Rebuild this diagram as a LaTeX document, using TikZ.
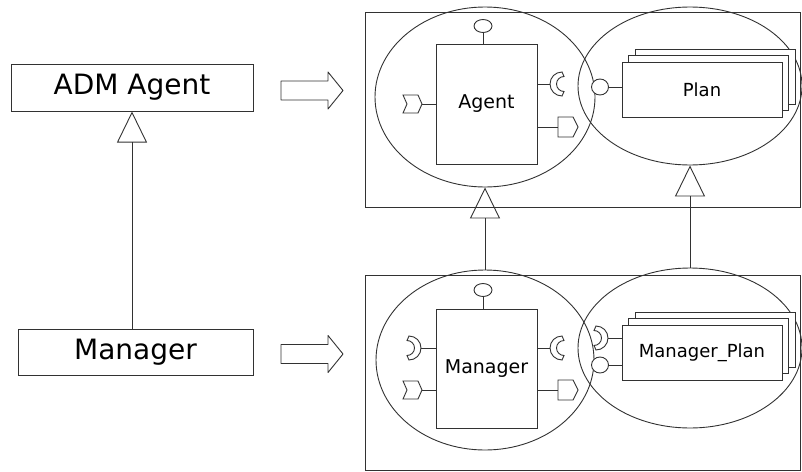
\documentclass[tikz,border=0pt]{standalone}
\usepackage{fontspec}
\setmainfont{DejaVu Sans}
\usetikzlibrary{arrows.meta,shapes.geometric}
\definecolor{ink}{RGB}{50,50,50}

\tikzset{
  line/.style={draw=ink, line width=0.9pt},
  classbox/.style={rectangle, draw=ink, line width=1pt, inner sep=0pt,
    font=\fontsize{28}{30}\selectfont},
  frame/.style={rectangle, draw=ink, line width=0.9pt, inner sep=0pt},
  compell/.style={ellipse, draw=ink, line width=0.9pt, inner sep=0pt},
  compbox/.style={rectangle, draw=ink, fill=white, line width=1pt, inner sep=0pt,
    font=\fontsize{19}{21}\selectfont},
  lolly/.style={ellipse, draw=ink, fill=white, line width=0.9pt, inner sep=0pt,
    minimum width=17pt, minimum height=16pt},
  toplolly/.style={lolly, minimum width=18pt, minimum height=13pt},
  inherit/.style={line, -{Triangle[open, length=31pt, width=30pt, line width=0.9pt]}},
  % ports drawn relative to the point where the stub meets them
  inport/.pic={\draw[line, fill=white, line join=miter]
      (-19,-9) -- (-4,-9) -- (0,0) -- (-4,9) -- (-19,9) -- (-15,0) -- cycle;},
  outport/.pic={\draw[line, fill=white]
      (0,-10) -- (15,-10) -- (20,0) -- (15,10) -- (0,10) -- cycle;},
  sockR/.pic={\draw[line, fill=white]
      (12,12) arc[start angle=90, end angle=270, radius=12]
      -- (14,-7.5) arc[start angle=270, end angle=90, radius=7.5] -- cycle;},
  sockL/.pic={\draw[line, fill=white]
      (-12,12) arc[start angle=90, end angle=-90, radius=12]
      -- (-14,-7.5) arc[start angle=-90, end angle=90, radius=7.5] -- cycle;},
  blockarrow/.pic={\draw[line, line join=round, fill=white]
      (0,-9.5) -- (47,-9.5) -- (47,-18.5) -- (62,0) -- (47,18.5) -- (47,9.5) -- (0,9.5) -- cycle;},
}

\begin{document}
\begin{tikzpicture}[x=1pt, y=1pt, yscale=-1]
\useasboundingbox (0,0) rectangle (802,471);

% ---- class view ----
\node[classbox, minimum width=242pt, minimum height=47pt] (adm) at (132,87.5) {ADM Agent};
\node[classbox, minimum width=235pt, minimum height=46pt] (mgr) at (135.5,352) {Manager};
\draw[inherit] (mgr.north -| adm.south) -- (adm.south);

\pic at (281,90.5) {blockarrow};
\pic at (281,354) {blockarrow};

% ---- component view: ADM Agent ----
\node[frame, minimum width=435pt, minimum height=195pt] (topframe) at (582.5,109.5) {};
\node[compell, minimum width=220pt, minimum height=180pt] (agentEll) at (485,97) {};
\node[compell, minimum width=224pt, minimum height=158pt] (planEll) at (690,86) {};

\node[compbox, minimum width=101pt, minimum height=120pt] (agent) at (486.5,104) {Agent};
\node[toplolly] (agentTop) at (483,26) {};
\draw[line] (agentTop.south) -- (agentTop.south |- agent.north);
\coordinate (agentIn) at (422,104);
\coordinate (agentReq) at (550,84);
\coordinate (agentOut) at (558,127);
\draw[line] (agentIn) -- (agentIn -| agent.west);
\draw[line] (agentReq -| agent.east) -- (agentReq);
\draw[line] (agentOut -| agent.east) -- (agentOut);
\pic at (agentIn) {inport};
\pic at (agentReq) {sockR};
\pic at (agentOut) {outport};

\node[compbox, minimum width=160pt, minimum height=55pt] (plan3) at (715,76.5) {};
\node[compbox, minimum width=160pt, minimum height=55pt] (plan2) at (708.5,83) {};
\node[compbox, minimum width=160pt, minimum height=55pt, font=\fontsize{18}{20}\selectfont] (plan) at (702,89.5) {Plan};
\node[lolly] (planProv) at (600,87) {};
\draw[line] (planProv.east) -- (planProv.east -| plan.west);

% ---- component view: Manager ----
\node[frame, minimum width=435pt, minimum height=195pt] (botframe) at (582.5,372.5) {};
\node[compell, minimum width=218pt, minimum height=180pt] (mgrEll) at (485,360) {};
\node[compell, minimum width=224pt, minimum height=160pt] (mplanEll) at (690,348) {};

\node[compbox, minimum width=101pt, minimum height=119pt] (mgrc) at (486.5,368.5) {Manager};
\node[toplolly] (mgrTop) at (483,290) {};
\draw[line] (mgrTop.south) -- (mgrTop.south |- mgrc.north);
\coordinate (mgrReqIn) at (421,348);
\coordinate (mgrIn) at (422,390);
\coordinate (mgrReq) at (550,348);
\coordinate (mgrOut) at (558,390);
\draw[line] (mgrReqIn) -- (mgrReqIn -| mgrc.west);
\draw[line] (mgrIn) -- (mgrIn -| mgrc.west);
\draw[line] (mgrReq -| mgrc.east) -- (mgrReq);
\draw[line] (mgrOut -| mgrc.east) -- (mgrOut);
\pic at (mgrReqIn) {sockL};
\pic at (mgrIn) {inport};
\pic at (mgrReq) {sockR};
\pic at (mgrOut) {outport};

\node[compbox, minimum width=160pt, minimum height=55pt] (mplan3) at (715,339.5) {};
\node[compbox, minimum width=160pt, minimum height=55pt] (mplan2) at (708.5,346) {};
\node[compbox, minimum width=160pt, minimum height=55pt, font=\fontsize{18}{20}\selectfont] (mplan) at (702,352.5) {Manager\_Plan};
\coordinate (mplanReq) at (608,338);
\node[lolly] (mplanProv) at (600,365) {};
\draw[line] (mplanReq) -- (mplanReq -| mplan.west);
\draw[line] (mplanProv.east) -- (mplanProv.east -| mplan.west);
\pic at (mplanReq) {sockL};

% ---- generalisation between the component views ----
\draw[inherit] (mgrEll.north) -- (agentEll.south);
\draw[inherit] (mplanEll.north) -- (planEll.south);
\end{tikzpicture}
\end{document}
